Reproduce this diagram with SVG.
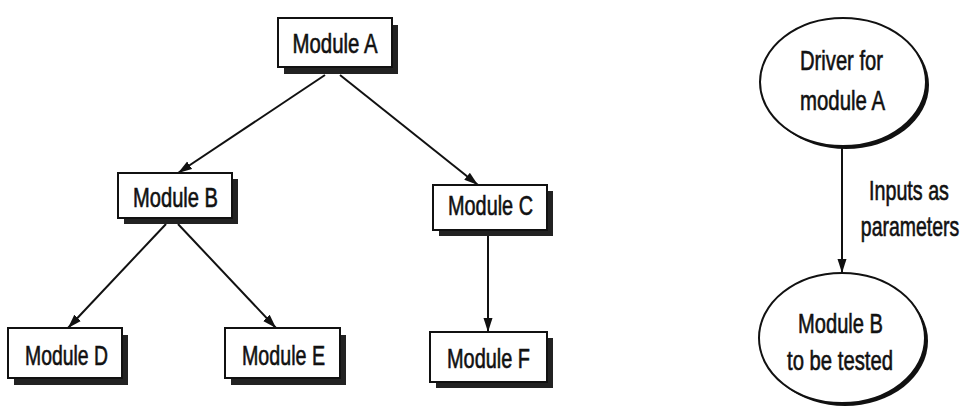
<svg xmlns="http://www.w3.org/2000/svg" width="965" height="407" viewBox="0 0 965 407">
<defs>
<marker id="arr" markerUnits="userSpaceOnUse" markerWidth="14" markerHeight="10" refX="14" refY="5" orient="auto">
<path d="M0,0.5 L14,5 L0,9.5 z" fill="#111"/>
</marker>
<style>
.shadow{fill:#222;}
.box{fill:#fff;stroke:#111;stroke-width:2;}
.t{font-family:"Liberation Sans",Arial,sans-serif;font-size:27px;fill:#111;stroke:#111;stroke-width:0.6;text-anchor:middle;}
.e{fill:#fff;stroke:#111;stroke-width:2;}
.es{fill:#111;}
.c{stroke:#111;stroke-width:2;fill:none;marker-end:url(#arr);}
</style>
</defs>
<rect width="965" height="407" fill="#fff"/>
<g id="connectors">
<line class="c" x1="325" y1="75" x2="178" y2="173"/>
<line class="c" x1="340" y1="75" x2="478" y2="185"/>
<line class="c" x1="166" y1="224" x2="68" y2="328"/>
<line class="c" x1="178" y1="224" x2="276" y2="328"/>
<line class="c" x1="488" y1="236" x2="488" y2="332"/>
<line class="c" x1="842" y1="148" x2="842" y2="273"/>
</g>
<g id="moduleA">
<rect class="shadow" x="284" y="25" width="114" height="49"/>
<rect class="box" x="278" y="18" width="114" height="49"/>
<text class="t" x="335" y="53" textLength="85" lengthAdjust="spacingAndGlyphs">Module A</text>
</g>
<g id="moduleB">
<rect class="shadow" x="124" y="179" width="114" height="45"/>
<rect class="box" x="118" y="173" width="114" height="45"/>
<text class="t" x="175.5" y="207" textLength="85" lengthAdjust="spacingAndGlyphs">Module B</text>
</g>
<g id="moduleC">
<rect class="shadow" x="439" y="191" width="114" height="45"/>
<rect class="box" x="433" y="185" width="114" height="45"/>
<text class="t" x="490.5" y="215" textLength="85" lengthAdjust="spacingAndGlyphs">Module C</text>
</g>
<g id="moduleD">
<rect class="shadow" x="14" y="335" width="114" height="50"/>
<rect class="box" x="8" y="328" width="114" height="50"/>
<text class="t" x="66.5" y="365" textLength="83" lengthAdjust="spacingAndGlyphs">Module D</text>
</g>
<g id="moduleE">
<rect class="shadow" x="231" y="335" width="115" height="50"/>
<rect class="box" x="225" y="328" width="115" height="50"/>
<text class="t" x="283.5" y="365" textLength="83" lengthAdjust="spacingAndGlyphs">Module E</text>
</g>
<g id="moduleF">
<rect class="shadow" x="436" y="338" width="117" height="50"/>
<rect class="box" x="430" y="332" width="117" height="50"/>
<text class="t" x="488.5" y="368" textLength="83" lengthAdjust="spacingAndGlyphs">Module F</text>
</g>
<g id="driver">
<ellipse class="es" cx="846" cy="85" rx="83" ry="64"/>
<ellipse class="e" cx="843" cy="82" rx="83" ry="64"/>
<text class="t" x="841.5" y="70" textLength="83" lengthAdjust="spacingAndGlyphs">Driver for</text>
<text class="t" x="842.5" y="110" textLength="85" lengthAdjust="spacingAndGlyphs">module A</text>
</g>
<g id="moduleBtest">
<ellipse class="es" cx="845" cy="341" rx="83" ry="65"/>
<ellipse class="e" cx="842" cy="338" rx="83" ry="65"/>
<text class="t" x="840.5" y="333" textLength="85" lengthAdjust="spacingAndGlyphs">Module B</text>
<text class="t" x="840" y="370" textLength="106" lengthAdjust="spacingAndGlyphs">to be tested</text>
</g>
<g id="label">
<text class="t" transform="translate(909,200) scale(0.73,1)" x="0" y="0">Inputs as</text>
<text class="t" transform="translate(910,236) scale(0.72,1)" x="0" y="0">parameters</text>
</g>
</svg>
